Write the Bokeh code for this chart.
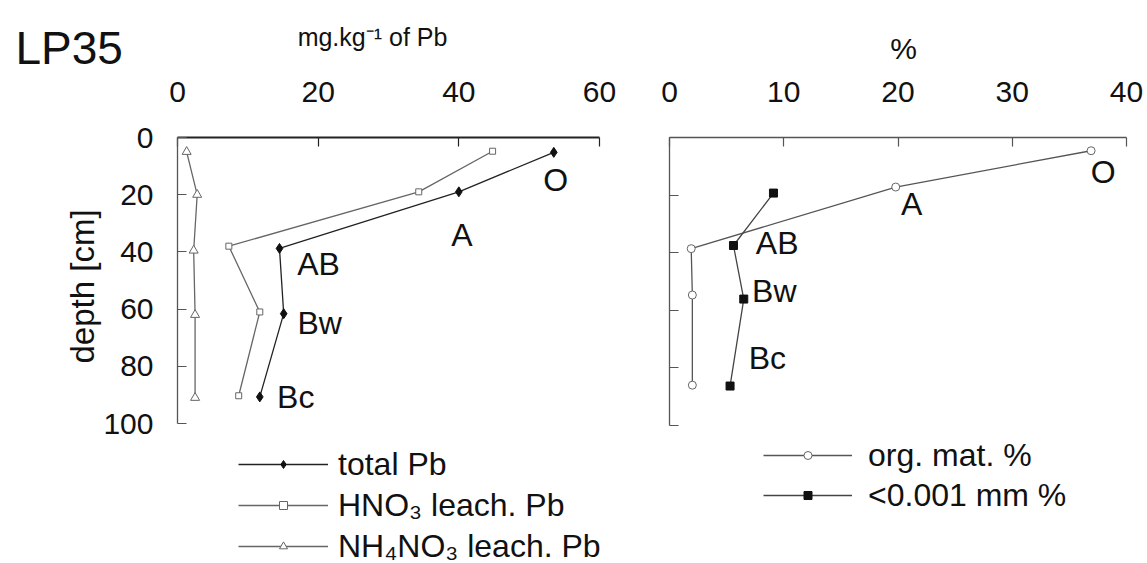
from bokeh.plotting import figure
from bokeh.layouts import row, column
from bokeh.models import Range1d, FixedTicker, Legend, LegendItem, Title
from bokeh.embed import file_html
from bokeh.resources import INLINE
from bokeh.core.properties import value

# ---------------- data ----------------
horizons = ["O", "A", "AB", "Bw", "Bc"]

total_pb = [53.5, 40.0, 14.5, 15.1, 11.7]
total_pb_depth = [5.2, 19.0, 38.8, 61.6, 90.7]
hno3_pb = [44.8, 34.3, 7.3, 11.7, 8.7]
hno3_depth = [4.8, 19.0, 38.0, 61.0, 90.3]
nh4no3_pb = [1.3, 2.8, 2.3, 2.5, 2.5]
nh4no3_depth = [5.0, 20.0, 39.5, 62.0, 91.0]

org_mat = [36.9, 19.8, 1.9, 2.0, 2.0]
org_mat_depth = [4.6, 17.2, 38.6, 54.7, 86.0]
clay = [9.1, 5.6, 6.5, 5.3]
clay_depth = [19.3, 37.5, 56.1, 86.3]

pb_ticks = [0, 20, 40, 60]
pct_ticks = [0, 10, 20, 30, 40]
depth_ticks = [0, 20, 40, 60, 80, 100]

header_texts = ["LP35", "mg.kg\u207b\u00b9 of Pb", "%"]

# ---------------- styling / layout ----------------
SANS = "'Liberation Sans', Arial, sans-serif"
TOTAL_W, TOTAL_H = 1147, 563
HEAD_H = 80
ROW_TOP = 55                      # row overlaps the header's lower strip
FRAME_TOP = 137                   # common top of both plot frames
H = TOTAL_H - ROW_TOP

# header text placement (pixels) and sizes
head_x = [15, 372, 903]
head_y = [47, 36, 48]
head_align = ["left", "center", "center"]
head_size = ["46px", "25px", "30px"]

# horizon label pixel offsets from their anchor points
left_dx = [2, 3, 39, 36, 36]
left_dy = [28, 43, 16, 9, 0]
right_dx = [12, 16, 86, 82, 75]
right_dy = [21, 17, -6, -4, -27]


def style_axes(p, xticks, yticks, xbounds, ybounds, xcol, ycol, xw, yw, show_ylabels):
    xa = p.xaxis[0]
    ya = p.yaxis[0]
    xa.ticker = FixedTicker(ticks=xticks)
    ya.ticker = FixedTicker(ticks=yticks)
    xa.bounds = xbounds
    ya.bounds = ybounds
    for ax, col, w in ((xa, xcol, xw), (ya, ycol, yw)):
        ax.axis_line_color = col
        ax.axis_line_width = w
        ax.major_tick_line_color = col
        ax.major_tick_line_width = 1.2
        ax.major_tick_in = 9
        ax.major_tick_out = 0
        ax.minor_tick_line_color = None
        ax.major_label_text_font = SANS
        ax.major_label_text_font_size = "30px"
        ax.major_label_text_color = "#111"
    xa.major_label_standoff = 36
    if show_ylabels:
        ya.major_label_standoff = 24
    else:
        ya.major_label_overrides = {t: "" for t in yticks}
        ya.major_label_text_color = None
        ya.major_label_standoff = 0
    p.xgrid.visible = False
    p.ygrid.visible = False
    p.outline_line_color = None
    p.border_fill_color = None


# ---------------- header with titles ----------------
header = figure(width=TOTAL_W, height=HEAD_H, output_backend="svg", toolbar_location=None,
                x_range=Range1d(0, TOTAL_W), y_range=Range1d(HEAD_H, 0),
                x_axis_type=None, y_axis_type=None, min_border=0)
header.outline_line_color = None
header.xgrid.visible = False
header.ygrid.visible = False
header.text(x=head_x, y=head_y, text=header_texts, text_align=head_align,
            text_baseline="middle", text_font=value(SANS),
            text_font_size=head_size, text_color="#111")

# ---------------- left panel ----------------
L_W = 660
L_left, L_top = 177, FRAME_TOP - ROW_TOP
lx_per = (599 - 177) / 60.0
ly_per = (423 - FRAME_TOP) / 100.0
left = figure(width=L_W, height=H, output_backend="svg", toolbar_location=None,
              x_axis_location="above",
              x_range=Range1d(0, (L_W - L_left) / lx_per),
              y_range=Range1d((H - L_top) / ly_per, 0),
              min_border_left=L_left, min_border_top=L_top,
              min_border_right=0, min_border_bottom=0)
style_axes(left, pb_ticks, depth_ticks, (0, 60), (0, 100), "#222", "#555", 2, 1.3, True)
left.add_layout(Title(text="depth [cm]", align="left", offset=200, standoff=0,
                      text_font=SANS, text_font_size="33px", text_font_style="normal",
                      text_color="#111"), "left")

l1 = left.line(total_pb, total_pb_depth, line_color="#222", line_width=1.3)
m1 = left.scatter(total_pb, total_pb_depth, marker="diamond", size=10,
                  fill_color="#111", line_color="#111")
l2 = left.line(hno3_pb, hno3_depth, line_color="#666", line_width=1.3)
m2 = left.scatter(hno3_pb, hno3_depth, marker="square", size=6,
                  fill_color="white", line_color="#666", line_width=1)
l3 = left.line(nh4no3_pb, nh4no3_depth, line_color="#666", line_width=1.3)
m3 = left.scatter(nh4no3_pb, nh4no3_depth, marker="triangle", size=9,
                  fill_color="white", line_color="#666", line_width=1)

left.text(x=total_pb, y=total_pb_depth, text=horizons, x_offset=left_dx, y_offset=left_dy,
          text_align="center", text_baseline="middle", text_font=value(SANS),
          text_font_size="32px", text_color="#111")

leg_l = Legend(items=[LegendItem(label="total Pb", renderers=[l1, m1]),
                      LegendItem(label="HNO\u2083 leach. Pb", renderers=[l2, m2]),
                      LegendItem(label="NH\u2084NO\u2083 leach. Pb", renderers=[l3, m3])],
               location=(61, -3), padding=0, margin=0, spacing=1,
               glyph_width=90, glyph_height=20, label_height=40, label_standoff=10,
               label_text_font=SANS, label_text_font_size="32px", label_text_color="#111",
               border_line_color=None, background_fill_alpha=0)
left.add_layout(leg_l)

# ---------------- right panel ----------------
R_W = TOTAL_W - L_W
R_left, R_top = 669 - L_W, FRAME_TOP - ROW_TOP
rx_per = (1126 - 669) / 40.0
ry_per = (425 - FRAME_TOP) / 100.0
right = figure(width=R_W, height=H, output_backend="svg", toolbar_location=None,
               x_axis_location="above",
               x_range=Range1d(0, (R_W - R_left) / rx_per),
               y_range=Range1d((H - R_top) / ry_per, 0),
               min_border_left=R_left, min_border_top=R_top,
               min_border_right=0, min_border_bottom=0)
style_axes(right, pct_ticks, depth_ticks, (0, 40), (0, 100), "#555", "#555", 1.6, 1.3, False)

r1 = right.line(org_mat, org_mat_depth, line_color="#555", line_width=1.3)
rm1 = right.scatter(org_mat, org_mat_depth, marker="circle", size=8,
                    fill_color="white", line_color="#666", line_width=1)
r2 = right.line(clay, clay_depth, line_color="#444", line_width=1.3)
rm2 = right.scatter(clay, clay_depth, marker="square", size=8,
                    fill_color="#111", line_color="#111")

right.text(x=org_mat, y=org_mat_depth, text=horizons, x_offset=right_dx, y_offset=right_dy,
           text_align="center", text_baseline="middle", text_font=value(SANS),
           text_font_size="32px", text_color="#111")

leg_r = Legend(items=[LegendItem(label="org. mat. %", renderers=[r1, rm1]),
                      LegendItem(label="<0.001 mm %", renderers=[r2, rm2])],
               location=(94, 48), padding=0, margin=0, spacing=0,
               glyph_width=89, glyph_height=20, label_height=40, label_standoff=16,
               label_text_font=SANS, label_text_font_size="32px", label_text_color="#111",
               border_line_color=None, background_fill_alpha=0)
right.add_layout(leg_r)

body = row(left, right)
body.margin = (ROW_TOP - HEAD_H, 0, 0, 0)
layout = column(header, body)
open("out.html", "w").write(file_html(layout, INLINE))
